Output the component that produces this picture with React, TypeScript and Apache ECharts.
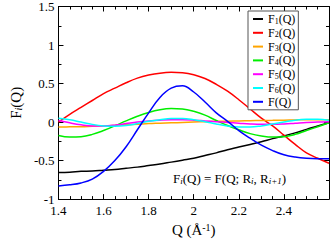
import React, { useEffect, useRef } from "react";
import * as echarts from "echarts";

const qValues = [1.4, 1.45, 1.5, 1.55, 1.6, 1.65, 1.7, 1.75, 1.8, 1.85, 1.9, 1.95, 2.0, 2.05, 2.1, 2.15, 2.2, 2.25, 2.3, 2.35, 2.4, 2.45, 2.5, 2.55, 2.6];

const f1 = [-0.655, -0.65, -0.64, -0.635, -0.625, -0.615, -0.6, -0.585, -0.565, -0.545, -0.52, -0.495, -0.47, -0.435, -0.4, -0.36, -0.325, -0.29, -0.255, -0.215, -0.18, -0.14, -0.095, -0.05, -0.01];
const f2 = [0.0, 0.1, 0.19, 0.28, 0.37, 0.44, 0.51, 0.57, 0.61, 0.635, 0.645, 0.64, 0.615, 0.565, 0.49, 0.4, 0.29, 0.17, 0.05, -0.05, -0.17, -0.29, -0.4, -0.47, -0.535];
const f3 = [-0.065, -0.062, -0.06, -0.055, -0.05, -0.043, -0.035, -0.028, -0.02, -0.015, -0.01, -0.005, 0.0, 0.005, 0.01, 0.012, 0.015, 0.018, 0.02, 0.022, 0.025, 0.028, 0.03, 0.03, 0.03];
const f4 = [-0.175, -0.195, -0.19, -0.16, -0.11, -0.05, 0.015, 0.075, 0.125, 0.16, 0.175, 0.17, 0.14, 0.09, 0.02, -0.045, -0.1, -0.15, -0.18, -0.195, -0.19, -0.16, -0.11, -0.06, -0.01];
const f5 = [0.02, -0.01, -0.035, -0.05, -0.05, -0.04, -0.02, 0.0, 0.015, 0.025, 0.03, 0.03, 0.025, 0.015, 0.005, -0.005, -0.015, -0.025, -0.03, -0.03, -0.025, -0.015, -0.005, 0.0, 0.005];
const f6 = [0.05, 0.03, 0.0, -0.03, -0.05, -0.055, -0.045, -0.02, 0.01, 0.03, 0.045, 0.045, 0.03, 0.005, -0.025, -0.05, -0.065, -0.065, -0.05, -0.025, 0.0, 0.025, 0.035, 0.035, 0.025];
const fTotal = [-0.83, -0.815, -0.79, -0.74, -0.64, -0.5, -0.32, -0.1, 0.12, 0.32, 0.44, 0.47, 0.39, 0.26, 0.12, 0.01, -0.11, -0.21, -0.3, -0.37, -0.425, -0.455, -0.47, -0.475, -0.475];

const seriesNames = ["F1(Q)", "F2(Q)", "F3(Q)", "F4(Q)", "F5(Q)", "F6(Q)", "F(Q)"];
const seriesData = [f1, f2, f3, f4, f5, f6, fTotal];
const seriesColors = ["#000000", "#ff0000", "#ffa500", "#00ee00", "#ff00ff", "#00ffff", "#0000ff"];

const xMin = 1.4;
const xMax = 2.6;
const xStep = 0.2;
const yMin = -1;
const yMax = 1.5;
const yStep = 0.5;

const FONT = "'Liberation Serif', 'Times New Roman', serif";

export default function App() {
  const ref = useRef<HTMLDivElement>(null);
  useEffect(() => {
    if (!ref.current) return;
    const chart = echarts.init(ref.current, undefined, { renderer: "svg" });
    const tickCommon = {
      axisLine: { show: true, onZero: false, lineStyle: { color: "#000", width: 1 } },
      axisTick: { show: true, inside: true, length: 5, lineStyle: { color: "#000" } },
      minorTick: { show: true, length: 3, lineStyle: { color: "#000" } },
      splitLine: { show: false },
    };
    const labelStyle = { color: "#000", fontFamily: FONT, fontSize: 13 };
    chart.setOption({
      animation: false,
      backgroundColor: "#fff",
      grid: { left: 43, right: 2, top: 5, bottom: 36, containLabel: false },
      xAxis: [
        {
          type: "value",
          min: xMin,
          max: xMax,
          interval: xStep,
          position: "bottom",
          ...tickCommon,
          minorTick: { ...tickCommon.minorTick, splitNumber: 4 },
          axisLabel: {
            ...labelStyle,
            margin: 5,
            formatter: (v: number) => (Math.abs(v - xMax) < 1e-6 ? "" : String(+v.toFixed(1))),
          },
          name: "Q (Å{sup|-1})",
          nameLocation: "middle",
          nameGap: 18,
          nameTextStyle: {
            color: "#000",
            fontFamily: FONT,
            fontSize: 15,
            rich: { sup: { fontFamily: FONT, fontSize: 10, verticalAlign: "top", color: "#000" } },
          },
        },
        {
          type: "value",
          min: xMin,
          max: xMax,
          interval: xStep,
          position: "top",
          ...tickCommon,
          minorTick: { ...tickCommon.minorTick, splitNumber: 4 },
          axisLabel: { show: false },
        },
      ],
      yAxis: [
        {
          type: "value",
          min: yMin,
          max: yMax,
          interval: yStep,
          position: "left",
          ...tickCommon,
          minorTick: { ...tickCommon.minorTick, splitNumber: 2 },
          axisLabel: { ...labelStyle, margin: 4, formatter: (v: number) => String(+v.toFixed(1)) },
          name: "F{sub|i}(Q)",
          nameLocation: "middle",
          nameGap: 28,
          nameRotate: 90,
          nameTextStyle: {
            color: "#000",
            fontFamily: FONT,
            fontSize: 15,
            rich: { sub: { fontFamily: FONT, fontSize: 10, fontStyle: "italic", verticalAlign: "bottom", color: "#000" } },
          },
        },
        {
          type: "value",
          min: yMin,
          max: yMax,
          interval: yStep,
          position: "right",
          ...tickCommon,
          minorTick: { ...tickCommon.minorTick, splitNumber: 2 },
          axisLabel: { show: false },
        },
      ],
      legend: {
        orient: "vertical",
        left: 248,
        top: 11,
        data: seriesNames,
        icon: "rect",
        itemWidth: 10,
        itemHeight: 2,
        itemGap: 1.8,
        padding: [2, 3, 2, 5],
        borderColor: "#555",
        borderWidth: 1,
        backgroundColor: "#fff",
        selectedMode: false,
        formatter: (name: string) => {
          const m = name.match(/^F(\d)\(Q\)$/);
          return m ? `{n|F}{s|${m[1]}}{n|(Q)}` : `{n|F(Q)}`;
        },
        textStyle: {
          color: "#000",
          fontFamily: FONT,
          fontSize: 12,
          rich: {
            n: { fontFamily: FONT, fontSize: 12, color: "#000", lineHeight: 12 },
            s: { fontFamily: FONT, fontSize: 8, color: "#000", verticalAlign: "bottom", lineHeight: 12 },
          },
        },
      },
      graphic: [
        {
          type: "text",
          left: 173,
          top: 172,
          style: {
            text: "F{si|i}(Q) = F(Q; R{si|i}, R{si|i+1})",
            fill: "#000",
            font: `13px ${FONT}`,
            rich: {
              si: { fontFamily: FONT, fontSize: 9, fontStyle: "italic", verticalAlign: "bottom", fill: "#000" },
            },
          },
        },
      ],
      series: seriesNames.map((name, i) => ({
        name,
        type: "line",
        xAxisIndex: 0,
        yAxisIndex: 0,
        data: qValues.map((q, j) => [q, seriesData[i][j]]),
        smooth: 0.4,
        symbol: "none",
        showSymbol: false,
        color: seriesColors[i],
        lineStyle: { color: seriesColors[i], width: 1.5 },
        z: i === 6 ? 3 : 2,
      })),
    });
    return () => chart.dispose();
  }, []);
  return <div ref={ref} style={{ width: 332, height: 242, position: "absolute", left: 0, top: 0 }} />;
}
